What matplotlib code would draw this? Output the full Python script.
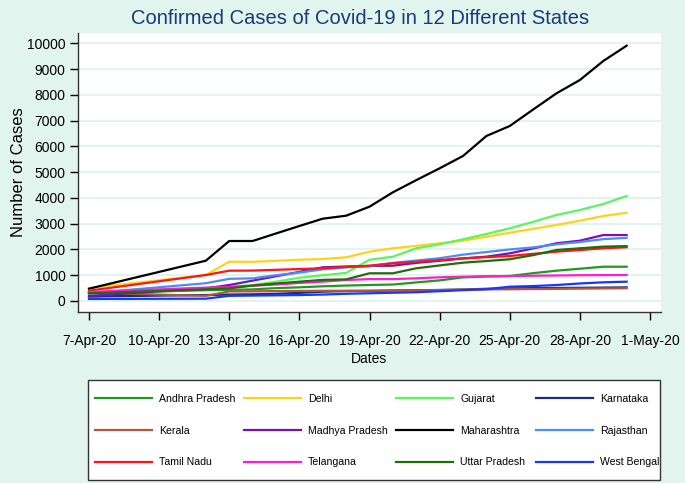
import matplotlib
matplotlib.use("Agg")
import matplotlib.pyplot as plt
import matplotlib.dates as mdates
from matplotlib.ticker import FuncFormatter
from matplotlib.patches import Rectangle
import pandas as pd

plt.rcParams['font.family'] = ['Liberation Sans', 'DejaVu Sans']

dates = ["2020-04-07", "2020-04-12", "2020-04-13", "2020-04-14", "2020-04-15",
         "2020-04-16", "2020-04-17", "2020-04-18", "2020-04-19", "2020-04-20",
         "2020-04-21", "2020-04-22", "2020-04-23", "2020-04-24", "2020-04-25",
         "2020-04-26", "2020-04-27", "2020-04-28", "2020-04-29", "2020-04-30"]

andhra_pradesh = [300, 420, 430, 450, 500, 530, 570, 600, 620, 640, 720, 800, 917, 950, 970, 1080, 1176, 1253, 1330, 1330]
delhi = [500, 1009, 1525, 1520, 1560, 1600, 1630, 1696, 1913, 2045, 2140, 2240, 2340, 2495, 2650, 2800, 2950, 3116, 3298, 3426]
gujarat = [150, 500, 560, 620, 750, 900, 1000, 1090, 1600, 1720, 2045, 2200, 2394, 2600, 2821, 3070, 3337, 3531, 3764, 4075]
karnataka = [175, 230, 250, 260, 280, 315, 360, 385, 390, 408, 418, 427, 445, 474, 490, 500, 505, 512, 520, 530]
kerala = [320, 200, 370, 375, 385, 390, 395, 398, 400, 405, 410, 425, 440, 450, 455, 465, 470, 480, 488, 495]
madhya_pradesh = [200, 490, 620, 790, 960, 1130, 1308, 1340, 1360, 1370, 1480, 1560, 1650, 1720, 1850, 2040, 2240, 2340, 2560, 2560]
maharashtra = [477, 1564, 2328, 2328, 2620, 2910, 3194, 3310, 3660, 4218, 4690, 5149, 5627, 6403, 6791, 7430, 8060, 8576, 9313, 9907]
rajasthan = [300, 690, 860, 880, 1000, 1100, 1230, 1308, 1350, 1480, 1570, 1660, 1800, 1900, 2000, 2080, 2200, 2290, 2400, 2450]
tamil_nadu = [400, 1009, 1176, 1180, 1210, 1240, 1270, 1320, 1370, 1463, 1520, 1590, 1656, 1700, 1746, 1830, 1913, 1977, 2045, 2085]
telangana = [350, 520, 540, 590, 640, 700, 750, 815, 850, 850, 880, 920, 943, 960, 970, 980, 990, 1000, 1005, 1009]
uttar_pradesh = [300, 450, 490, 600, 680, 750, 820, 840, 1075, 1075, 1270, 1380, 1487, 1550, 1620, 1780, 1979, 2045, 2110, 2130]
west_bengal = [80, 90, 200, 210, 220, 230, 250, 280, 300, 320, 340, 380, 420, 456, 555, 580, 620, 680, 725, 750]

states = ["Andhra Pradesh", "Delhi", "Gujarat", "Karnataka",
          "Kerala", "Madhya Pradesh", "Maharashtra", "Rajasthan",
          "Tamil Nadu", "Telangana", "Uttar Pradesh", "West Bengal"]
series = [andhra_pradesh, delhi, gujarat, karnataka,
          kerala, madhya_pradesh, maharashtra, rajasthan,
          tamil_nadu, telangana, uttar_pradesh, west_bengal]
colors = ["#1f9a1f", "#ffd21a", "#5cf55c", "#1a2e78",
          "#b4563c", "#7412b4", "#000000", "#4a8cff",
          "#ff1414", "#ff1ecc", "#1e6e0a", "#1438ff"]

x = pd.to_datetime(dates)

W, H = 685, 483
bg = "#e2f4ee"
fig = plt.figure(figsize=(W/100, H/100), dpi=100, facecolor=bg)
ax = fig.add_axes([78/W, 1-312/H, (661-78)/W, (312-33)/H])
ax.set_facecolor("white")

handles = []
for name, vals, c in zip(states, series, colors):
    h, = ax.plot(x, vals, color=c, lw=1.6, label=name)
    handles.append(h)

ax.set_ylim(-427, 10400)
ax.set_yticks(range(0, 10001, 1000))
ax.yaxis.set_major_formatter(FuncFormatter(lambda v, p: f"{int(v)}"))
ticks = pd.date_range("2020-04-07", "2020-05-01", freq="3D")
ax.set_xlim(mdates.date2num(pd.Timestamp("2020-04-07")) - 0.47,
            mdates.date2num(pd.Timestamp("2020-05-01")) + 0.47)
ax.set_xticks(ticks)
ax.set_xticklabels([f"{d.day}-{d.strftime('%b-%y')}" for d in ticks])

ax.grid(axis="y", color=bg, lw=1.4)
ax.set_axisbelow(True)
for s in ["top", "right"]:
    ax.spines[s].set_visible(False)
for s in ["left", "bottom"]:
    ax.spines[s].set_color("#333333")
    ax.spines[s].set_linewidth(1.0)
ax.tick_params(axis="both", labelsize=10, colors="#000000", length=6, width=1)
ax.tick_params(axis="x", pad=10)
ax.tick_params(axis="y", pad=3)

ax.set_xlabel("Dates", fontsize=10, labelpad=3)
ax.set_ylabel("Number of Cases", fontsize=12)
ax.yaxis.set_label_coords((26-78)/(661-78), (312-172)/(312-33))
fig.text(360.5/W, 1-18/H, "Confirmed Cases of Covid-19 in 12 Different States",
         ha="center", va="center", fontsize=14.5, color="#1a3a78")

# legend frame
fig.add_artist(Rectangle((88/W, 1-480/H), (660-88)/W, (480-379.5)/H,
                         transform=fig.transFigure, facecolor="white",
                         edgecolor="#333333", lw=1.0, zorder=1))
col_x = [95, 243.5, 396, 536]
for ci in range(4):
    idx = [ci, ci+4, ci+8]
    lg = fig.legend([handles[i] for i in idx], [states[i] for i in idx],
                    ncol=1, loc="upper left",
                    bbox_to_anchor=(col_x[ci]/W, 1-394/H),
                    fontsize=7.6, frameon=False, handlelength=5.4,
                    handletextpad=0.7, borderpad=0, borderaxespad=0,
                    labelspacing=2.05)
    lg.set_zorder(2)

fig.savefig("out.png", dpi=100, facecolor=bg)
